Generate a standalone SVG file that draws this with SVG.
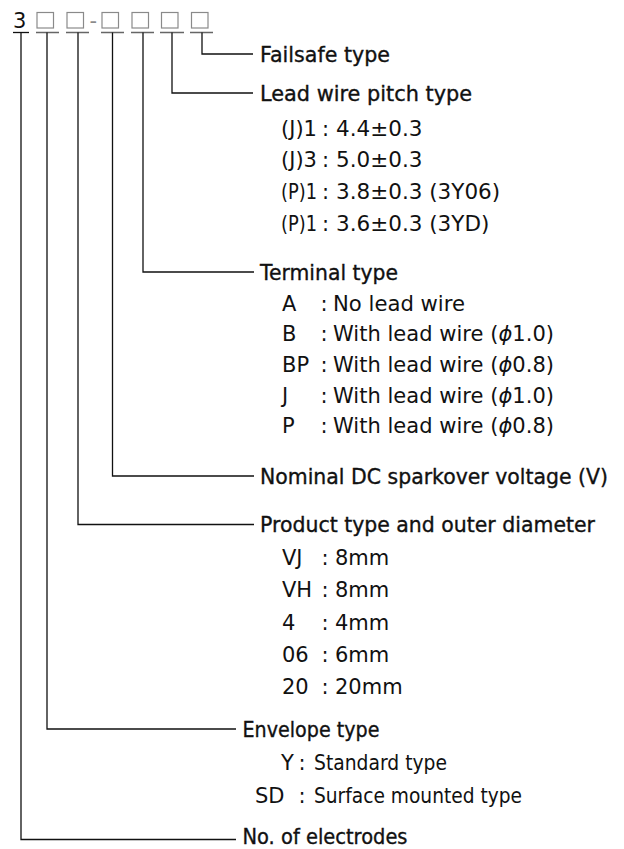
<svg xmlns="http://www.w3.org/2000/svg" width="624" height="849" viewBox="0 0 624 849">
<style>
.h{font-family:"DejaVu Sans",sans-serif;font-size:20.4px;fill:#111;stroke:#111;stroke-width:0.35px}
.t{font-family:"DejaVu Sans",sans-serif;font-size:21px;fill:#111}
.v{font-size:21.5px}
.ph{font-style:italic}
.bx{fill:none;stroke:#8a8a8a;stroke-width:1.2px}
.ln{fill:none;stroke:#111;stroke-width:1.3px}
.ul{fill:none;stroke:#666;stroke-width:1.3px}
</style>
<rect width="624" height="849" fill="#fff"/>
<g id="code">
<text class="t" y="28" font-size="20.4"><tspan x="13">3</tspan><tspan x="89.5" fill="#8a8a8a">-</tspan></text>
<rect class="bx" x="37" y="12.5" width="16.5" height="15.5"/>
<rect class="bx" x="67" y="12.5" width="16.5" height="15.5"/>
<rect class="bx" x="102" y="12.5" width="16.5" height="15.5"/>
<rect class="bx" x="132" y="12.5" width="16.5" height="15.5"/>
<rect class="bx" x="161.5" y="12.5" width="16.5" height="15.5"/>
<rect class="bx" x="191.5" y="12.5" width="16.5" height="15.5"/>
<path class="ln" d="M13 32.5H29"/>
<path class="ul" d="M36 32.5H59M66 32.5H89M101 32.5H124M131 32.5H154M160 32.5H184M190 32.5H213"/>
</g>
<g id="connectors">
<path class="ln" d="M202 32.5V54H253"/>
<path class="ln" d="M172 32.5V93H253"/>
<path class="ln" d="M143 32.5V272H254"/>
<path class="ln" d="M112.5 32.5V476H254"/>
<path class="ln" d="M78 32.5V524.5H254"/>
<path class="ln" d="M47 32.5V729H236"/>
<path class="ln" d="M21 32.5V839.5H236"/>
</g>
<g id="failsafe">
<text class="h" x="260" y="61.5" textLength="130" lengthAdjust="spacingAndGlyphs">Failsafe type</text>
</g>
<g id="pitch">
<text class="h" x="260" y="100.5" textLength="212" lengthAdjust="spacingAndGlyphs">Lead wire pitch type</text>
<text class="t" y="136"><tspan x="281">(J)1</tspan><tspan x="322">: </tspan><tspan class="v" x="336">4.4±0.3</tspan></text>
<text class="t" y="167"><tspan x="281">(J)3</tspan><tspan x="322">: </tspan><tspan class="v" x="336">5.0±0.3</tspan></text>
<text class="t" y="198.5"><tspan x="281" textLength="36" lengthAdjust="spacingAndGlyphs">(P)1</tspan><tspan x="322">: </tspan><tspan class="v" x="336">3.8±0.3 (3Y06)</tspan></text>
<text class="t" y="230.5"><tspan x="281" textLength="36" lengthAdjust="spacingAndGlyphs">(P)1</tspan><tspan x="322">: </tspan><tspan class="v" x="336">3.6±0.3 (3YD)</tspan></text>
</g>
<g id="terminal">
<text class="h" x="260" y="279.5" textLength="138" lengthAdjust="spacingAndGlyphs">Terminal type</text>
<text class="t" y="310.5"><tspan x="282">A</tspan><tspan x="320.5">: </tspan><tspan x="333" textLength="132" lengthAdjust="spacingAndGlyphs">No lead wire</tspan></text>
<text class="t" y="341"><tspan x="282">B</tspan><tspan x="320.5">: </tspan><tspan x="333" textLength="221" lengthAdjust="spacing">With lead wire (<tspan class="ph">ϕ</tspan>1.0)</tspan></text>
<text class="t" y="372"><tspan x="282">BP</tspan><tspan x="320.5">: </tspan><tspan x="333" textLength="221" lengthAdjust="spacing">With lead wire (<tspan class="ph">ϕ</tspan>0.8)</tspan></text>
<text class="t" y="403"><tspan x="282">J</tspan><tspan x="320.5">: </tspan><tspan x="333" textLength="221" lengthAdjust="spacing">With lead wire (<tspan class="ph">ϕ</tspan>1.0)</tspan></text>
<text class="t" y="433"><tspan x="282">P</tspan><tspan x="320.5">: </tspan><tspan x="333" textLength="221" lengthAdjust="spacing">With lead wire (<tspan class="ph">ϕ</tspan>0.8)</tspan></text>
</g>
<g id="voltage">
<text class="h" x="260" y="483.5" textLength="348" lengthAdjust="spacingAndGlyphs">Nominal DC sparkover voltage (V)</text>
</g>
<g id="product">
<text class="h" x="260" y="532" textLength="335" lengthAdjust="spacingAndGlyphs">Product type and outer diameter</text>
<text class="t" y="564.5"><tspan x="282">VJ</tspan><tspan x="321.5">: </tspan><tspan x="335">8mm</tspan></text>
<text class="t" y="597"><tspan x="282">VH</tspan><tspan x="321.5">: </tspan><tspan x="335">8mm</tspan></text>
<text class="t" y="629.5"><tspan x="282">4</tspan><tspan x="321.5">: </tspan><tspan x="335">4mm</tspan></text>
<text class="t" y="661.5"><tspan x="282">06</tspan><tspan x="321.5">: </tspan><tspan x="335">6mm</tspan></text>
<text class="t" y="693.5"><tspan x="282">20</tspan><tspan x="321.5">: </tspan><tspan x="335">20mm</tspan></text>
</g>
<g id="envelope">
<text class="h" x="242.5" y="736.5" textLength="137" lengthAdjust="spacingAndGlyphs">Envelope type</text>
<text class="t" y="770"><tspan x="281">Y</tspan><tspan x="298.5">: </tspan><tspan x="314" textLength="133" lengthAdjust="spacingAndGlyphs">Standard type</tspan></text>
<text class="t" y="803"><tspan x="255">SD</tspan><tspan x="298.5">: </tspan><tspan x="314" textLength="208" lengthAdjust="spacingAndGlyphs">Surface mounted type</tspan></text>
</g>
<g id="electrodes">
<text class="h" x="242.5" y="844" textLength="165" lengthAdjust="spacingAndGlyphs">No. of electrodes</text>
</g>
</svg>
